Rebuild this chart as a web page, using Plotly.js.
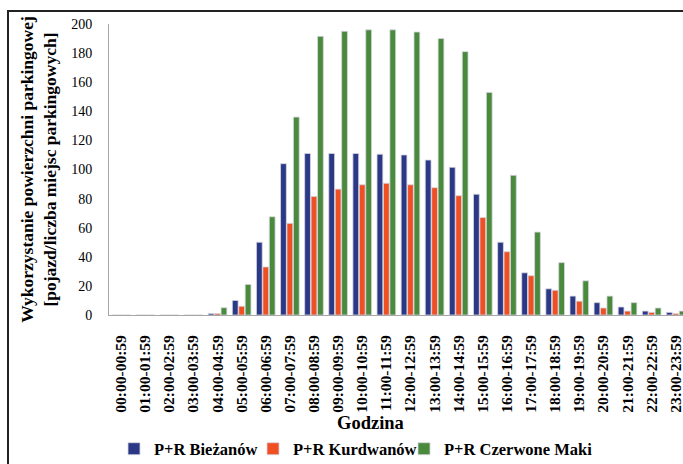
<!DOCTYPE html>
<html>
<head>
<meta charset="utf-8">
<script src="https://cdn.plot.ly/plotly-3.0.1.min.js"></script>
<style>
  html, body { margin: 0; padding: 0; background: #fff; }
  #wrap { position: relative; width: 683px; height: 464px; overflow: hidden; }
  #chart { width: 683px; height: 464px; }
  #frame { position: absolute; left: 7px; top: 10px; width: 700px; height: 500px;
           border-left: 2px solid #222; border-top: 2px solid #222; pointer-events: none; }
</style>
</head>
<body>
<div id="wrap">
  <div id="chart"></div>
  <div id="frame"></div>
</div>
<script>
const hours = [
  "00:00-00:59","01:00-01:59","02:00-02:59","03:00-03:59","04:00-04:59","05:00-05:59",
  "06:00-06:59","07:00-07:59","08:00-08:59","09:00-09:59","10:00-10:59","11:00-11:59",
  "12:00-12:59","13:00-13:59","14:00-14:59","15:00-15:59","16:00-16:59","17:00-17:59",
  "18:00-18:59","19:00-19:59","20:00-20:59","21:00-21:59","22:00-22:59","23:00-23:59"
];
const biezanow = [0, 0, 0, 0, 1, 10, 50, 104, 111, 111, 111, 110.5, 110, 106.5, 101.5, 83, 50, 29, 18, 13, 8.5, 5.5, 2.7, 1.8];
const kurdwanow = [0, 0, 0, 0, 1, 6, 33, 63, 81.5, 86.5, 89.5, 90.5, 89.5, 87.5, 82, 67, 43.5, 27, 17, 9.5, 4.8, 2.7, 1.8, 1];
const czerwoneMaki = [0, 0, 0, 0, 5, 21, 67.5, 136, 191.5, 195, 196, 196, 194.5, 190, 181, 153, 96, 57, 36, 23.5, 13, 8.5, 4.8, 2.7];

const seriesNames = ["P+R Bieżanów", "P+R Kurdwanów", "P+R Czerwone Maki"];
const seriesColors = ["#2B3886", "#F04E23", "#4A8A3C"];
const seriesData = [biezanow, kurdwanow, czerwoneMaki];
const legendIds = ["legend", "legend2", "legend3"];

const serif = "Liberation Serif, Times New Roman, serif";

const traces = seriesData.map((vals, i) => ({
  type: "bar",
  name: seriesNames[i],
  legend: legendIds[i],
  x: hours,
  y: vals,
  marker: { color: seriesColors[i], line: { color: "rgba(215,215,225,1)", width: 0.8 } },
  hoverinfo: "x+y+name"
}));

const legendFont = { family: serif, size: 16.5, color: "#000", weight: "bold" };
const legendStarts = [114, 253, 404];
function mkLegend(px) {
  return {
    orientation: "h",
    xref: "container", yref: "container",
    x: px / 683, xanchor: "left",
    y: (464 - 449) / 464, yanchor: "middle",
    itemwidth: 30,
    bgcolor: "rgba(0,0,0,0)",
    font: legendFont
  };
}

const layout = {
  width: 683,
  height: 464,
  margin: { l: 109, r: 0, t: 24, b: 149 },
  paper_bgcolor: "#fff",
  plot_bgcolor: "#fff",
  barmode: "group",
  bargap: 0.2,
  bargroupgap: 0.1,
  showlegend: true,
  legend: mkLegend(legendStarts[0]),
  legend2: mkLegend(legendStarts[1]),
  legend3: mkLegend(legendStarts[2]),
  xaxis: {
    type: "category",
    range: [-0.5, 23.3],
    showline: true, linecolor: "#A6A6A6", linewidth: 1,
    ticks: "", showgrid: false, zeroline: false,
    tickangle: -90,
    ticklabelstandoff: 13,
    tickfont: { family: serif, size: 15.5, color: "#000", weight: "bold" }
  },
  yaxis: {
    range: [0, 200],
    dtick: 20,
    showline: true, linecolor: "#A6A6A6", linewidth: 1,
    ticks: "", showgrid: false, zeroline: false,
    ticklabelstandoff: 13,
    tickfont: { family: serif, size: 14, color: "#000" },
    title: { text: "Wykorzystanie powierzchni parkingowej<br>[pojazd/liczba miejsc parkingowych]", standoff: 10,
             font: { family: serif, size: 17.5, color: "#000", weight: "bold" } }
  },
  annotations: [{
    text: "Godzina",
    xref: "paper", yref: "paper",
    x: (370 - 109) / 574, xanchor: "center",
    y: (315 - 423) / 291, yanchor: "middle",
    showarrow: false,
    font: { family: serif, size: 18.5, color: "#000", weight: "bold" }
  }]
};

Plotly.newPlot("chart", traces, layout, { displayModeBar: false });
</script>
</body>
</html>
